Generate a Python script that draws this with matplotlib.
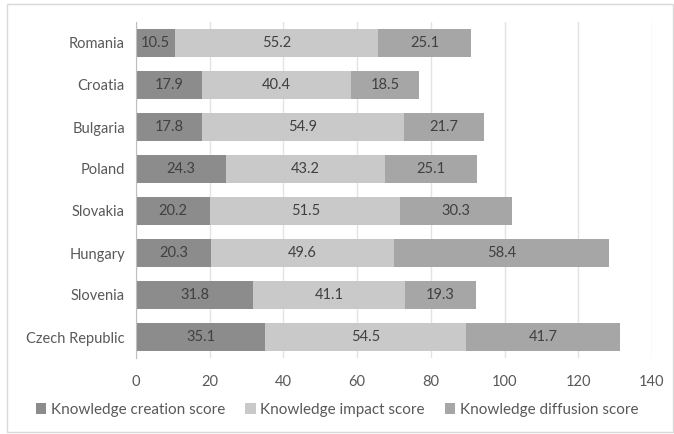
import matplotlib
matplotlib.use("Agg")
import matplotlib.pyplot as plt
from matplotlib.patches import Rectangle

plt.rcParams['font.family'] = ['Lato', 'DejaVu Sans']

countries = ["Romania", "Croatia", "Bulgaria", "Poland", "Slovakia",
             "Hungary", "Slovenia", "Czech Republic"]
creation = [10.5, 17.9, 17.8, 24.3, 20.2, 20.3, 31.8, 35.1]
impact = [55.2, 40.4, 54.9, 43.2, 51.5, 49.6, 41.1, 54.5]
diffusion = [25.1, 18.5, 21.7, 25.1, 30.3, 58.4, 19.3, 41.7]
series_names = ["Knowledge creation score", "Knowledge impact score",
                "Knowledge diffusion score"]
colors = ["#8c8c8c", "#c9c9c9", "#a6a6a6"]
xticks = [0, 20, 40, 60, 80, 100, 120, 140]

fig = plt.figure(figsize=(6.74, 4.34), dpi=100)
# outer frame of the chart
fig.patches.append(Rectangle((7 / 674, 1 - 432 / 434), 666 / 674, 428 / 434,
                             transform=fig.transFigure, fill=False,
                             edgecolor="#d9d9d9", linewidth=1))

ax = fig.add_axes([136 / 674, 1 - 358 / 434, 516 / 674, 336 / 434])

ypos = list(range(len(countries)))
left = [0] * len(countries)
for vals, name, col in zip([creation, impact, diffusion], series_names, colors):
    bars = ax.barh(ypos, vals, left=left, height=0.66, color=col, label=name,
                   zorder=2)
    ax.bar_label(bars, labels=[f"{v:.1f}" for v in vals], label_type="center",
                 fontsize=10.5, color="#404040")
    left = [a + b for a, b in zip(left, vals)]

ax.set_xlim(0, 140)
ax.set_ylim(len(countries) - 0.5, -0.5)
ax.set_xticks(xticks)
ax.set_yticks(ypos)
ax.set_yticklabels(countries)
ax.grid(axis="x", color="#e3e3e3", linewidth=1, zorder=0)
for s in ["top", "right", "bottom"]:
    ax.spines[s].set_visible(False)
ax.spines["left"].set_color("#bfbfbf")
ax.tick_params(axis="both", length=0, labelsize=10.5, labelcolor="#595959")
ax.tick_params(axis="x", pad=12)
ax.tick_params(axis="y", pad=8)

handles, labels = ax.get_legend_handles_labels()
fig.legend(handles, labels, loc="center", bbox_to_anchor=(0.5, 1 - 410 / 434),
           ncol=3, frameon=False, fontsize=11, labelcolor="#595959",
           handlelength=0.7, handleheight=0.7, handletextpad=0.3,
           columnspacing=1.3)

fig.savefig("out.png", dpi=100)
